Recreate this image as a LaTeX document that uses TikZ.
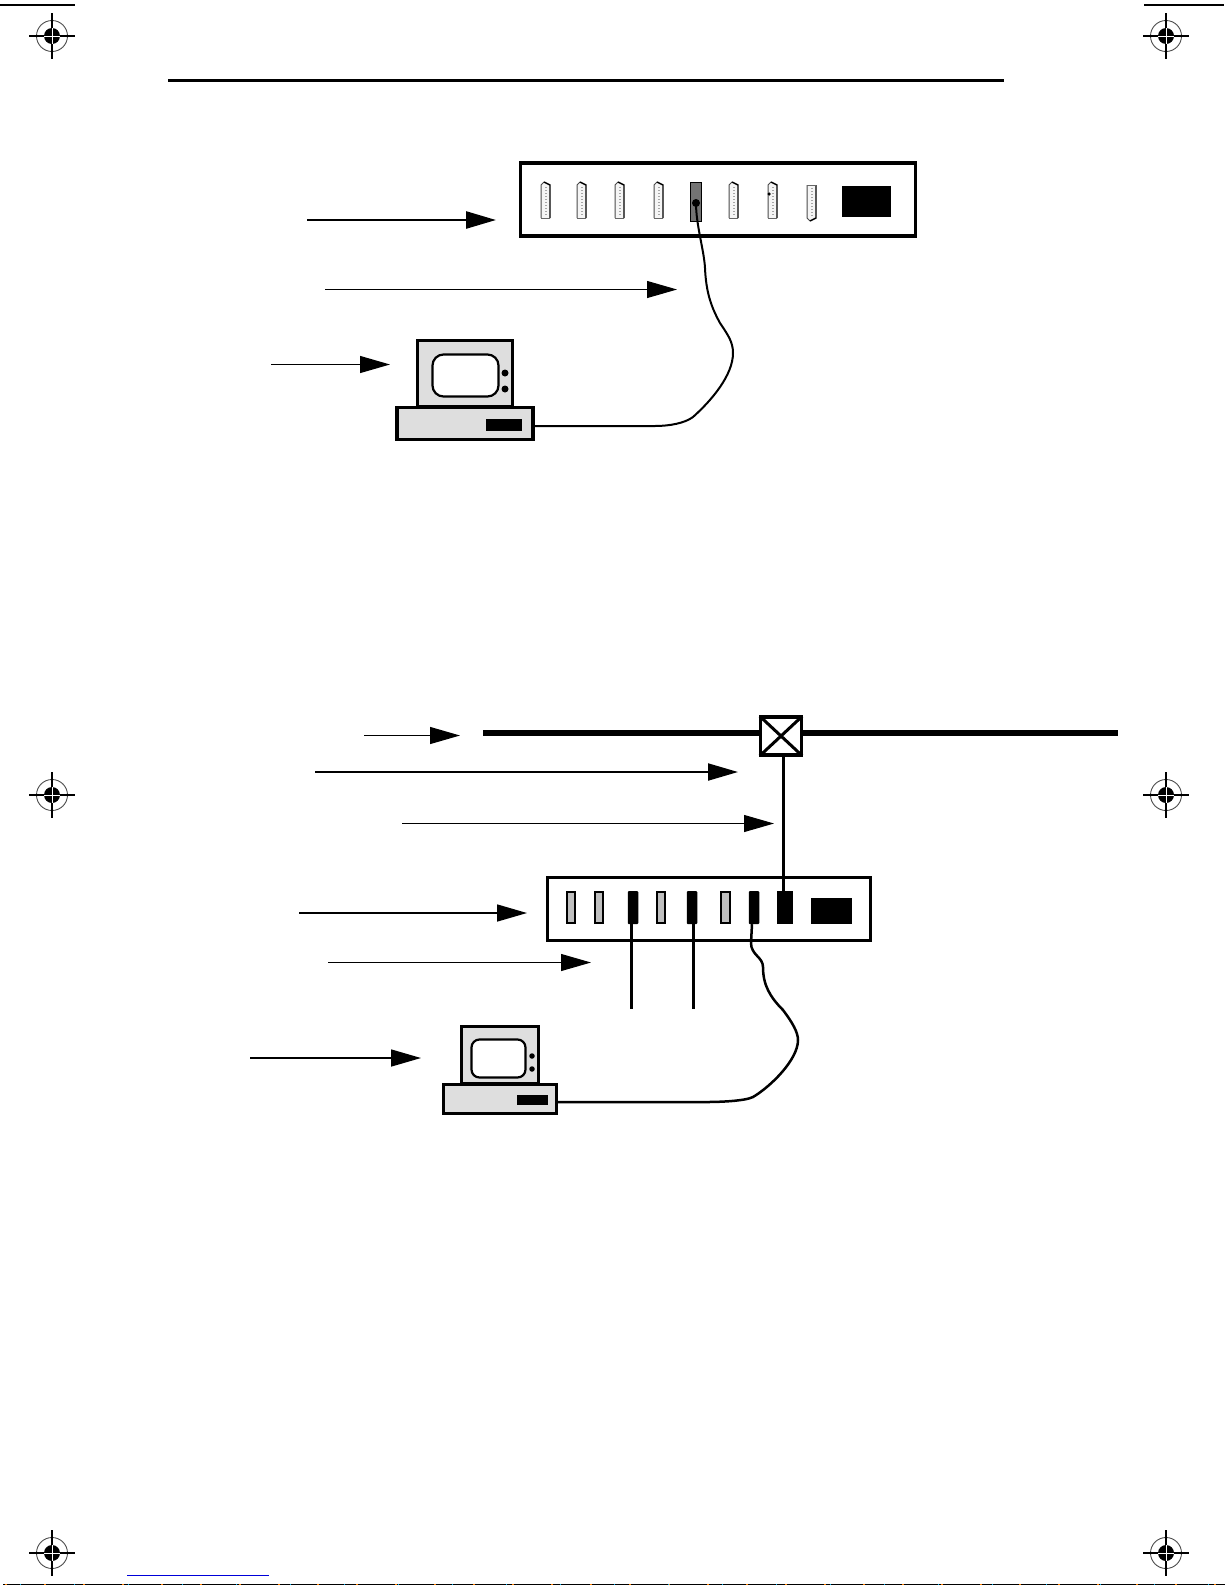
\documentclass[tikz,border=0pt]{standalone}
\usepackage{xcolor}
\usetikzlibrary{arrows.meta}
\tikzset{
  box/.style={rectangle,draw,line width=#1,inner sep=0pt,fill=white},
  box/.default=3.5pt,
  inked/.style={rectangle,fill=black,inner sep=0pt},
  blob/.style={circle,fill=black,inner sep=0pt},
  beige/.style={rectangle,draw,line width=3.2pt,inner sep=0pt,fill=black!13},
  screen/.style={rectangle,draw,line width=2.2pt,inner sep=0pt,fill=white,rounded corners=11pt},
  pointer/.style={-{Triangle[length=30pt,width=17pt]},line width=#1},
  pointer/.default=1pt,
  cable/.style={line width=2pt},
  hair/.style={line width=1.2pt}
}
\newcommand{\dsub}[3]{%
  \begin{scope}[shift={(#1,#3)},yscale=#2]
    \fill[black!4] (1,3) -- (4,0) -- (10,3) -- (10,36) -- (1,36) -- cycle;
    \draw[black!35,line width=2pt,dash pattern=on 1pt off 2pt] (5.5,5) -- (5.5,34);
    \draw[black!70,line width=1pt] (1,36) -- (1,3) -- (4,0);
    \draw[black,line width=1.4pt] (4,0) -- (10,3) -- (10,36);
    \draw[black!60,line width=1pt] (1,36) -- (10,36);
  \end{scope}}
\begin{document}
\begin{tikzpicture}[x=1pt,y=-1pt]
\useasboundingbox (0,0) rectangle (1225,1585);
\foreach \x in {52,1166} \foreach \y in {36,795,1553} {
  \draw[black!70,line width=.9pt] (\x,\y) circle (15.5);
  \fill (\x,\y) circle (8);
  \draw[hair] (\x-23,\y) -- (\x+23,\y);
  \draw[hair] (\x,\y-23) -- (\x,\y+23);
  \draw[white,line width=.8pt] (\x-8,\y) -- (\x+8,\y) (\x,\y-8) -- (\x,\y+8);
}
\draw[hair] (0,5) -- (75,5);
\draw[hair] (1144,5) -- (1224,5);
\draw[line width=3pt] (168,80) -- (1004,80);
\draw[blue!85!black,line width=1pt] (127,1575.5) -- (269,1575.5);
\draw[line width=1.2pt] (3,1584.6) -- (1225,1584.6);
\draw[orange,line width=1.2pt,dash pattern=on 2pt off 37pt] (5,1584.6) -- (1225,1584.6);
\draw[cyan,line width=1.2pt,dash pattern=on 1pt off 53pt] (20,1584.6) -- (1225,1584.6);

\node (hubA) at (718,199.25) [box,minimum width=395pt,minimum height=73pt] {};
\foreach \x in {540,576,614,653,728,767} \dsub{\x}{1}{182};
\dsub{806}{-1}{221}
\node (dotB) at (769,194) [blob,minimum size=3.5pt] {};
\node (jackA) at (696,202) [box=1.4pt,fill=black!55,minimum width=11pt,minimum height=39pt] {};
\node (dotA) at (696,203) [blob,minimum size=8pt] {};
\node (ledA) at (866.5,201.5) [inked,minimum width=49pt,minimum height=31pt] {};

\node (monA) at (465,373.5) [beige,minimum width=94.5pt,minimum height=66pt] {};
\node (scrA) at (465.5,375.5) [screen,minimum width=66pt,minimum height=42pt] {};
\node at (505,373) [blob,minimum size=7pt] (knobA) {};
\node at (505,389) [blob,minimum size=7pt] (knobB) {};
\node (baseA) at (465,423.5) [beige,minimum width=136pt,minimum height=32.5pt] {};
\node (slotA) at (504,425) [inked,minimum width=36pt,minimum height=12pt] {};

\draw[cable] (dotA.center) .. controls (696,225) and (704,250) .. (705,268)
  .. controls (706,290) and (710,305) .. (720,323)
  .. controls (728,335) and (733,342) .. (733,353)
  .. controls (733,375) and (712,400) .. (693,417)
  .. controls (685,423) and (670,426) .. (655,426) -- (baseA.east |- 0,426);

\coordinate (a1) at (307,220);
\coordinate (a2) at (496,220);
\coordinate (b1) at (325,289.5);
\coordinate (b2) at (677,289.5);
\coordinate (c1) at (271,364.5);
\coordinate (c2) at (390,364.5);
\draw[pointer=2.6pt] (a1) -- (a2);
\draw[pointer] (b1) -- (b2);
\draw[pointer=1.2pt] (c1) -- (c2);

\node (tap) at (781,736) [box,minimum width=41pt,minimum height=38pt] {};
\draw[line width=3pt,shorten >=1.5pt,shorten <=1.5pt] (tap.north west) -- (tap.south east);
\draw[line width=3pt,shorten >=1.5pt,shorten <=1.5pt] (tap.north east) -- (tap.south west);
\coordinate (busL) at (483,733);
\coordinate (busR) at (1118,733);
\draw[line width=5.5pt] (busL) -- (busL -| tap.west);
\draw[line width=5.5pt] (busL -| tap.east) -- (busR);

\node (hubB) at (709,908.5) [box=3pt,minimum width=323.5pt,minimum height=63pt] {};
\foreach \n/\x in {p1/571,p2/599,p4/661,p6/725.5}
  \node (\n) at (\x,907.5) [box=2pt,fill=black!25,minimum width=8.5pt,minimum height=31pt] {};
\foreach \n/\x in {p3/633,p5/692,p7/754}
  \node (\n) at (\x,907.5) [inked,rounded corners=1pt,minimum width=10.5pt,minimum height=33pt] {};
\node (p8) at (785,907.5) [inked,minimum width=16pt,minimum height=33pt] {};
\node (ledB) at (831.5,911) [inked,minimum width=41pt,minimum height=26pt] {};

\draw[line width=3pt] (tap.south -| 783.5,0) -- (p8.north -| 783.5,0);
\coordinate (endA) at (631.5,1009);
\coordinate (endB) at (693.5,1009);
\draw[line width=2.8pt] (p3.south -| endA) -- (endA);
\draw[line width=2.8pt] (p5.south -| endB) -- (endB);

\node (monB) at (500,1055) [beige,line width=2.8pt,minimum width=77pt,minimum height=57pt] {};
\node (scrB) at (498.5,1058.5) [screen,rounded corners=8pt,minimum width=54pt,minimum height=38pt] {};
\node at (532,1056) [blob,minimum size=5.5pt] (knobC) {};
\node at (532,1069) [blob,minimum size=5.5pt] (knobD) {};
\node (baseB) at (500,1099) [beige,line width=2.8pt,minimum width=113pt,minimum height=29pt] {};
\node (slotB) at (532.5,1100) [inked,minimum width=31pt,minimum height=10pt] {};

\draw[line width=2.5pt] (p7.south -| 752,0) -- (751,943)
  .. controls (751,955) and (763,957) .. (763,967)
  .. controls (763,985) and (770,997) .. (783,1010)
  .. controls (792,1022) and (798,1032) .. (798,1040)
  .. controls (798,1060) and (770,1087) .. (753,1097)
  .. controls (745,1101) and (720,1102) .. (707,1102) -- (baseB.east |- 0,1102);

\coordinate (d1) at (364,735.5);
\coordinate (d2) at (460,735.5);
\coordinate (e1) at (315,772);
\coordinate (e2) at (738,772);
\coordinate (f1) at (402,823.5);
\coordinate (f2) at (774,823.5);
\coordinate (g1) at (299,913);
\coordinate (g2) at (527,913);
\coordinate (h1) at (328,962.5);
\coordinate (h2) at (591,962.5);
\coordinate (i1) at (250,1058);
\coordinate (i2) at (421,1058);
\draw[pointer=1.2pt] (d1) -- (d2);
\draw[pointer=2pt] (e1) -- (e2);
\draw[pointer] (f1) -- (f2);
\draw[pointer=1.6pt] (g1) -- (g2);
\draw[pointer] (h1) -- (h2);
\draw[pointer=1.6pt] (i1) -- (i2);
\end{tikzpicture}
\end{document}
